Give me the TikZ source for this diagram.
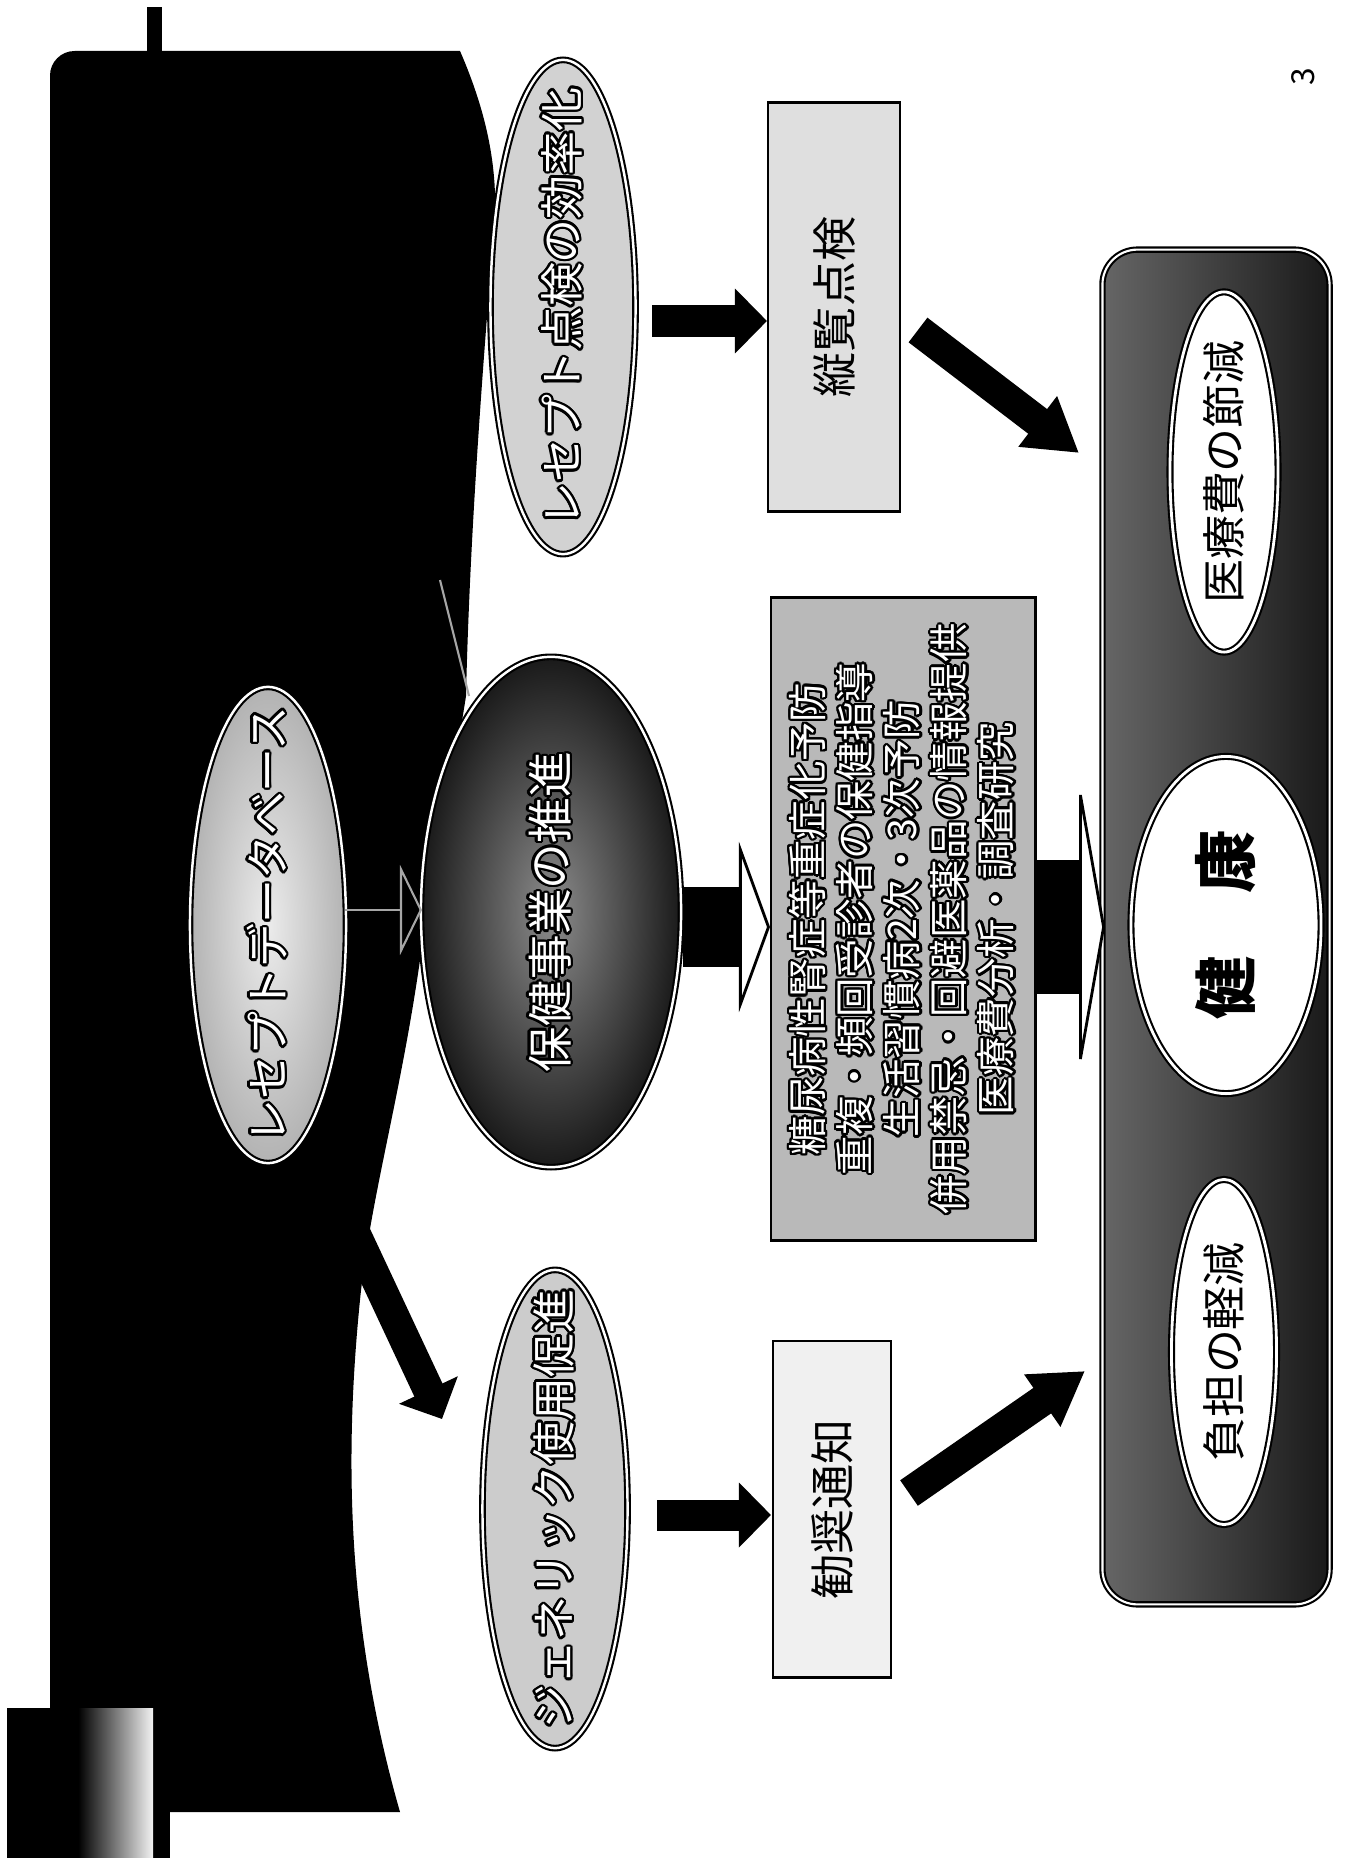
\documentclass[tikz,border=0pt]{standalone}
\usepackage{fontspec}
\setmainfont{Noto Sans CJK JP}
\usepackage{contour}
\contourlength{0.7pt}
\usetikzlibrary{shapes.geometric,arrows.meta,calc}

\newcommand{\olt}[1]{\contour{black}{#1}}

\begin{document}
\begin{tikzpicture}[
    x=0.01cm, y=-0.01cm,
    oval/.style={ellipse, draw=black, line width=0.6pt, double=white, double distance=0.7pt, inner sep=0pt, rotate=90, text=white, font=\fontsize{12.5}{15}\selectfont},
    goal/.style={ellipse, draw=black, line width=0.6pt, double=white, double distance=0.8pt, fill=white, inner sep=0pt, rotate=90, font=\fontsize{12.5}{15}\selectfont},
    card/.style={rectangle, draw=black, line width=0.8pt, inner sep=0pt, rotate=90, font=\fontsize{12.8}{15}\selectfont},
    fat/.style={draw=black, line width=0.31cm, -{Triangle[width=0.63cm, length=0.32cm]}},
    wide/.style args={#1/#2/#3}{draw=black, line width=#1, -{Triangle[width=#2, length=#3, fill=white, line width=0.8pt]}},
    ghost/.style={draw=gray!70, line width=0.6pt}
  ]
  \useasboundingbox (0,0) rectangle (1345,1858);

  % Dark backdrop
  \fill[black] (50,1812) -- (50,300) [rounded corners=7] -- (50,51) -- (300,51) [sharp corners] -- (460,51)
    .. controls (490,120) and (500,180) .. (493,240)
    .. controls (486,330) and (470,520) .. (466,696)
    .. controls (450,800) and (430,860) .. (420,960)
    .. controls (400,1100) and (370,1200) .. (360,1300)
    .. controls (345,1450) and (345,1620) .. (400,1812) -- cycle;
  \fill[black] (147,7) rectangle (162,51);
  \fill[black] (7,1708) rectangle (170,1858);
  \shade[left color=black, right color=gray!10] (78,1708) rectangle (153,1858);

  % Sources and measures
  \node[oval, inner color=gray!15, outer color=gray!60, minimum width=4.76cm, minimum height=1.56cm] (db) at (268,925) {\makebox[0pt]{\olt{レセプトデータベース}}};
  \node[oval, fill=gray!35, minimum width=4.94cm, minimum height=1.45cm] (rcp) at (563,307) {\makebox[0pt]{\olt{レセプト点検の効率化}}};
  \node[oval, inner color=black!45, outer color=black!90, minimum width=5.10cm, minimum height=2.60cm, font=\fontsize{13}{15}\selectfont] (hoken) at (551,912) {\makebox[0pt]{\olt{保健事業の推進}}};
  \node[oval, fill=gray!40, minimum width=4.78cm, minimum height=1.45cm] (gen) at (555,1509) {\makebox[0pt]{\olt{ジェネリック使用促進}}};

  % Actions
  \node[card, fill=gray!25, minimum width=4.08cm, minimum height=1.32cm] (juran) at (834,307) {縦覧点検};
  \node[card, fill=gray!55, text=white, align=center, minimum width=6.42cm, minimum height=2.64cm, font=\fontsize{11.2}{13.4}\selectfont] (cbox) at (903,919)
    {\olt{糖尿病性腎症等重症化予防}\\ \olt{重複・頻回受診者の保健指導}\\ \olt{生活習慣病2次・3次予防}\\ \olt{併用禁忌・回避医薬品の情報提供}\\ \olt{医療費分析・調査研究}};
  \node[card, fill=gray!12, minimum width=3.36cm, minimum height=1.18cm] (kan) at (832,1509) {勧奨通知};

  % Outcome panel
  \node[rectangle, rounded corners=0.35cm, draw=black, line width=0.6pt, double=white, double distance=0.6pt, left color=black!60, right color=black!90, rotate=90, inner sep=0pt, minimum width=13.54cm, minimum height=2.27cm] (panel) at (1216,927) {};
  \node[goal, minimum width=3.60cm, minimum height=1.08cm] (cost) at (1224,472) {\makebox[0pt]{医療費の節減}};
  \node[goal, minimum width=3.37cm, minimum height=1.90cm, font=\fontsize{18}{20}\selectfont\bfseries] (kenko) at (1226,925) {\makebox[0pt]{健　康}};
  \node[goal, minimum width=3.45cm, minimum height=1.05cm] (futan) at (1224,1352) {\makebox[0pt]{負担の軽減}};

  \node[rotate=90, font=\fontsize{9}{10}\selectfont] (page) at (1303,77) {3};

  % Arrows
  \draw[ghost, -{Triangle[open, width=0.9cm, length=0.22cm]}] ($(db.center)+(77,-15)$) -- ($(hoken.center)+(-129,-2)$);
  \draw[ghost] ($(hoken.center)+(-111,-332)$) -- ($(hoken.center)+(-82,-216)$);
  \draw[fat] ($(db.center)+(62,255)$) -- ($(gen.center)+(-113,-90)$);
  \draw[fat] ($(rcp.center)+(89,14)$) -- ($(juran.center)+(-67,14)$);
  \draw[wide=0.8cm/1.7cm/0.31cm] ($(hoken.center)+(132,15)$) -- ($(cbox.center)+(-133,8)$);
  \draw[fat] ($(gen.center)+(102,6)$) -- ($(kan.center)+(-61,6)$);
  \draw[wide=1.34cm/2.96cm/0.26cm] ($(cbox.center)+(132,8)$) -- ($(panel.center)+(-111,0)$);
  \draw[fat, -{Triangle[width=0.6cm, length=0.52cm]}] ($(juran.center)+(84,23)$) -- ($(panel.center)+(-137,-474)$);
  \draw[fat, -{Triangle[width=0.6cm, length=0.52cm]}] ($(kan.center)+(77,-16)$) -- ($(panel.center)+(-131,444)$);
\end{tikzpicture}
\end{document}
